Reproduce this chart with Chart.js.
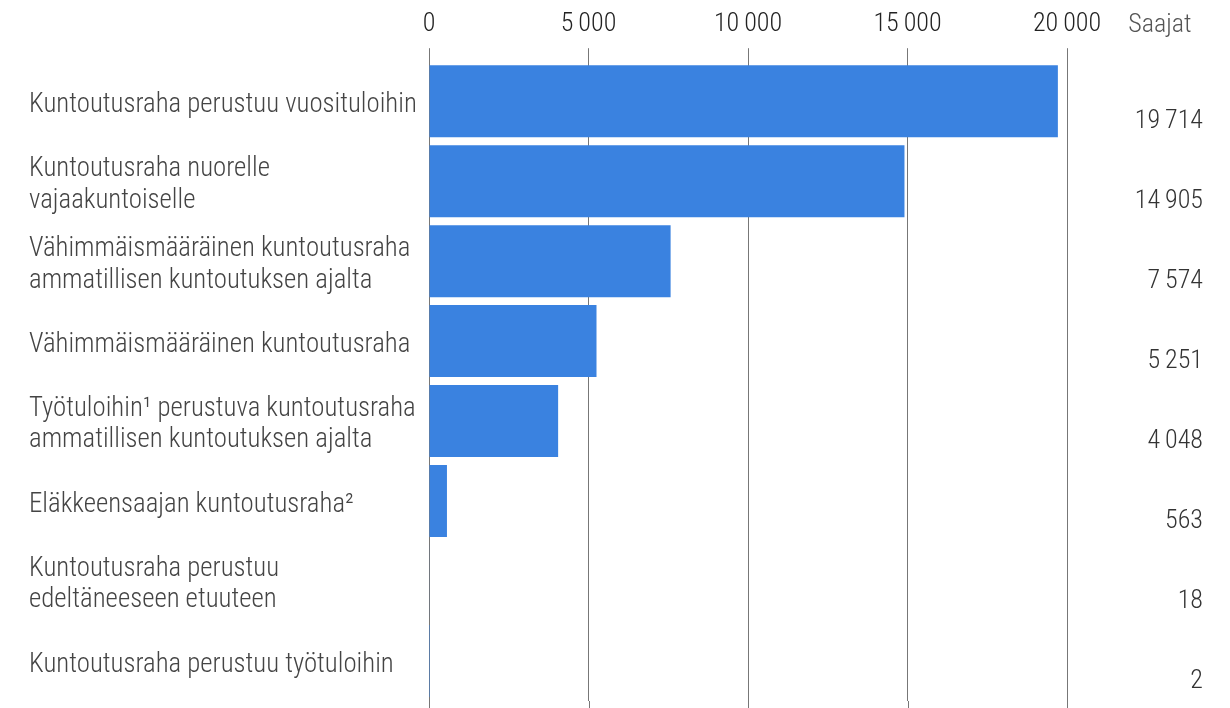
<!DOCTYPE html>
<html>
<head>
<meta charset="utf-8">
<script src="https://cdn.jsdelivr.net/npm/chart.js"></script>
<style>
  html,body{margin:0;padding:0;background:#fff}
  #wrap{width:1230px;height:708px;position:relative}
</style>
</head>
<body>
<div id="wrap"><canvas id="chart"></canvas></div>
<script>
// categories (multi-line labels), receivers per benefit type
const categories = [
  ['Kuntoutusraha perustuu vuosituloihin'],
  ['Kuntoutusraha nuorelle', 'vajaakuntoiselle'],
  ['Vähimmäismääräinen kuntoutusraha', 'ammatillisen kuntoutuksen ajalta'],
  ['Vähimmäismääräinen kuntoutusraha'],
  ['Työtuloihin¹ perustuva kuntoutusraha', 'ammatillisen kuntoutuksen ajalta'],
  ['Eläkkeensaajan kuntoutusraha²'],
  ['Kuntoutusraha perustuu', 'edeltäneeseen etuuteen'],
  ['Kuntoutusraha perustuu työtuloihin']
];
const saajat = [19714, 14905, 7574, 5251, 4048, 563, 18, 2];
const tickLabels = ['0', '5\u2009000', '10\u2009000', '15\u2009000', '20\u2009000'];
const unitLabel = 'Saajat';

const FONT = "'Roboto Condensed', 'Liberation Sans Narrow', 'DejaVu Sans Condensed', Roboto, sans-serif";
const fmt = n => String(n).replace(/\B(?=(\d{3})+(?!\d))/g, '\u2009');

// values on the right edge + the "Saajat" header,
// and grid lines continued down to the canvas edge
const sidePlugin = {
  id: 'sideValues',
  beforeDatasetsDraw(chart) {
    const ctx = chart.ctx, x = chart.scales.x, area = chart.chartArea;
    ctx.save();
    ctx.strokeStyle = '#777';
    ctx.lineWidth = 1;
    x.ticks.forEach(t => {
      const px = Math.round(x.getPixelForValue(t.value)) + 0.5;
      ctx.beginPath();
      ctx.moveTo(px, area.bottom);
      ctx.lineTo(px, chart.height);
      ctx.stroke();
    });
    ctx.restore();
  },
  afterDraw(chart) {
    const ctx = chart.ctx, y = chart.scales.y;
    ctx.save();
    ctx.font = '300 26px ' + FONT;
    ctx.fillStyle = '#333';
    ctx.textAlign = 'right';
    ctx.textBaseline = 'middle';
    saajat.forEach((v, i) => {
      ctx.fillText(fmt(v), 1203, y.getPixelForValue(i) + 20);
    });
    ctx.fillStyle = '#555';
    ctx.textAlign = 'center';
    ctx.fillText(unitLabel, 1160, 25);
    ctx.restore();
  }
};

new Chart(document.getElementById('chart'), {
  type: 'bar',
  data: {
    labels: categories,
    datasets: [{
      data: saajat,
      backgroundColor: '#3a82e0',
      borderWidth: 0,
      barPercentage: 1,
      categoryPercentage: 0.9
    }]
  },
  options: {
    indexAxis: 'y',
    responsive: true,
    maintainAspectRatio: false,
    animation: false,
    layout: { padding: { left: 29, right: 163, top: 1, bottom: 7 } },
    plugins: { legend: { display: false }, tooltip: { enabled: false } },
    scales: {
      x: {
        position: 'top',
        min: 0, max: 20000,
        ticks: {
          stepSize: 5000,
          font: { family: FONT, size: 26, weight: 300 },
          color: '#222',
          padding: 8,
          callback: (v, i) => tickLabels[i]
        },
        grid: { color: '#777', lineWidth: 1, tickLength: 13, drawTicks: true },
        border: { display: false }
      },
      y: {
        ticks: {
          crossAlign: 'far',
          font: { family: FONT, size: 26.8, weight: 300, lineHeight: 1.17 },
          color: '#444',
          padding: 0,
          labelOffset: 4
        },
        grid: { display: false },
        border: { display: false },
        afterFit(s) {
          s.width = 400;
          s.paddingTop = 0;
          s.paddingBottom = 0;
        }
      }
    }
  },
  plugins: [sidePlugin]
});
</script>
</body>
</html>
